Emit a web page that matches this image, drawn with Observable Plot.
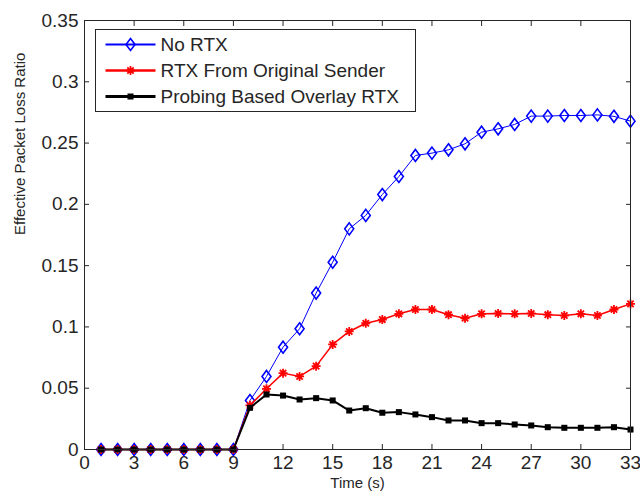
<!DOCTYPE html>
<html>
<head>
<meta charset="utf-8">
<script src="https://cdn.jsdelivr.net/npm/d3@7"></script>
<script src="https://cdn.jsdelivr.net/npm/@observablehq/plot@0.6"></script>
<style>
  body { margin: 0; background: #fff; }
  #chart svg { display: block; }
</style>
</head>
<body>
<div id="chart"></div>
<script>
// Time axis (seconds) and the three loss-ratio series
const time = [1, 2, 3, 4, 5, 6, 7, 8, 9, 10, 11, 12, 13, 14, 15, 16, 17, 18, 19, 20, 21, 22, 23, 24, 25, 26, 27, 28, 29, 30, 31, 32, 33];
const noRtx = [0, 0, 0, 0, 0, 0, 0, 0, 0, 0.040, 0.0596, 0.0835, 0.0985, 0.1276, 0.1528, 0.180, 0.191, 0.208, 0.2227, 0.2399, 0.2418, 0.2445, 0.2494, 0.2589, 0.2616, 0.2652, 0.272, 0.272, 0.2725, 0.2725, 0.273, 0.2718, 0.2679];
const rtxOriginal = [0, 0, 0, 0, 0, 0, 0, 0, 0, 0.036, 0.0495, 0.0623, 0.0596, 0.068, 0.0857, 0.0963, 0.103, 0.106, 0.1107, 0.1142, 0.1142, 0.110, 0.1071, 0.1107, 0.111, 0.1107, 0.111, 0.110, 0.1093, 0.1107, 0.1093, 0.1142, 0.1188];
const overlayRtx = [0, 0, 0, 0, 0, 0, 0, 0, 0, 0.034, 0.0449, 0.044, 0.0408, 0.0419, 0.040, 0.0318, 0.0337, 0.030, 0.0305, 0.0286, 0.0264, 0.0237, 0.0237, 0.0215, 0.0215, 0.0204, 0.0196, 0.0182, 0.0177, 0.0177, 0.0177, 0.0182, 0.0163];

const seriesNames = ["No RTX", "RTX From Original Sender", "Probing Based Overlay RTX"];
const seriesColors = ["#0000ff", "#ff0000", "#000000"];

const xTicks = [0, 3, 6, 9, 12, 15, 18, 21, 24, 27, 30, 33];
const yTicks = [0, 0.05, 0.1, 0.15, 0.2, 0.25, 0.3, 0.35];
const yTickLabels = ["0", "0.05", "0.1", "0.15", "0.2", "0.25", "0.3", "0.35"];
const xTitle = "Time (s)";
const yTitle = "Effective Packet Loss Ratio";

// Marker shapes: tall open diamond, eight-armed asterisk, filled square
const diamondTall = {
  draw(ctx, size) {
    const r = Math.sqrt(size / Math.PI), w = r * 0.75;
    ctx.moveTo(0, -r); ctx.lineTo(w, 0); ctx.lineTo(0, r); ctx.lineTo(-w, 0); ctx.closePath();
  }
};
const asterisk8 = {
  draw(ctx, size) {
    const r = Math.sqrt(size / Math.PI), d = r * 0.7071;
    ctx.moveTo(0, -r); ctx.lineTo(0, r);
    ctx.moveTo(-r, 0); ctx.lineTo(r, 0);
    ctx.moveTo(-d, -d); ctx.lineTo(d, d);
    ctx.moveTo(-d, d); ctx.lineTo(d, -d);
  }
};

const markerStyles = [
  {symbol: diamondTall, r: 6, fill: "none", stroke: seriesColors[0], strokeWidth: 1.6, lineWidth: 1},
  {symbol: asterisk8, r: 4.5, fill: "none", stroke: seriesColors[1], strokeWidth: 1.8, lineWidth: 1.5},
  {symbol: d3.symbolSquare, r: 3.4, fill: seriesColors[2], stroke: "none", strokeWidth: 0, lineWidth: 2}
];

const seriesValues = [noRtx, rtxOriginal, overlayRtx];
const seriesData = seriesValues.map(vals => time.map((t, i) => ({t, v: vals[i]})));

const ink = "#262626";
const fontFamily = '"Liberation Sans", Arial, sans-serif';

const seriesMarks = seriesData.flatMap((data, k) => {
  const s = markerStyles[k];
  return [
    Plot.line(data, {x: "t", y: "v", stroke: seriesColors[k], strokeWidth: s.lineWidth}),
    Plot.dot(data, {x: "t", y: "v", symbol: s.symbol, r: s.r, fill: s.fill, stroke: s.stroke, strokeWidth: s.strokeWidth})
  ];
});

const plot = Plot.plot({
  width: 640,
  height: 497,
  marginLeft: 84,
  marginRight: 10,
  marginTop: 20,
  marginBottom: 48,
  style: {fontFamily, fontSize: "19px", color: ink, background: "#fff", overflow: "visible"},
  x: {domain: [0, 33]},
  y: {domain: [0, 0.35]},
  marks: [
    Plot.axisX(xTicks, {anchor: "bottom", tickSize: -5, tickPadding: 11, tickFormat: d => String(d), label: null}),
    Plot.axisX(xTicks, {anchor: "top", tickSize: -5, tickFormat: () => "", label: null}),
    Plot.axisY(yTicks, {anchor: "left", tickSize: -5, tickPadding: 11, tickFormat: d => yTickLabels[yTicks.indexOf(d)], label: null}),
    Plot.axisY(yTicks, {anchor: "right", tickSize: -5, tickFormat: () => "", label: null}),
    Plot.text([xTitle], {frameAnchor: "bottom", dy: 38, text: d => d, fontSize: 15, fill: ink}),
    Plot.text([yTitle], {frameAnchor: "left", dx: -64, rotate: -90, text: d => d, fontSize: 15, fill: ink}),
    ...seriesMarks,
    Plot.frame({stroke: ink, strokeWidth: 1})
  ]
});

// Legend box in the upper-left corner of the plot area
const svg = d3.select(plot);
const legend = svg.append("g").attr("transform", "translate(95.5,29.5)");
legend.append("rect")
  .attr("width", 320).attr("height", 82)
  .attr("fill", "#fff").attr("stroke", ink);
seriesNames.forEach((name, i) => {
  const s = markerStyles[i];
  const row = legend.append("g").attr("transform", `translate(0,${15 + i * 26})`);
  row.append("line")
    .attr("x1", 10).attr("x2", 60)
    .attr("stroke", seriesColors[i]).attr("stroke-width", s.lineWidth + 1);
  row.append("path")
    .attr("transform", "translate(35,0)")
    .attr("d", d3.symbol(s.symbol, Math.PI * s.r * s.r)())
    .attr("fill", s.fill).attr("stroke", s.stroke).attr("stroke-width", s.strokeWidth);
  row.append("text")
    .attr("x", 65).attr("dy", "0.35em")
    .attr("text-anchor", "start")
    .attr("fill", ink)
    .attr("font-family", fontFamily).attr("font-size", 19)
    .text(name);
});

document.getElementById("chart").appendChild(plot);
</script>
</body>
</html>
